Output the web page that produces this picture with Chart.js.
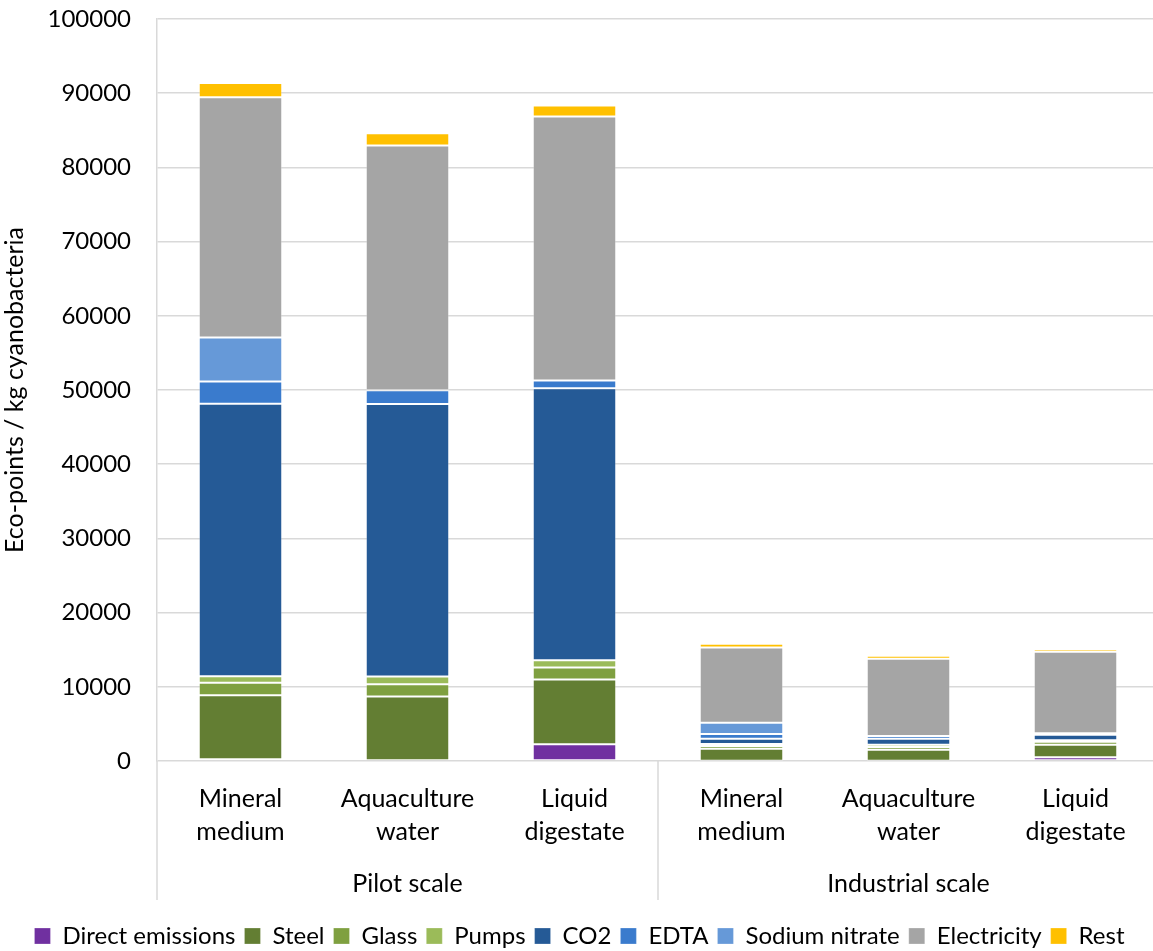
<!DOCTYPE html>
<html>
<head>
<meta charset="utf-8">
<script src="https://cdn.jsdelivr.net/npm/chart.js"></script>
<style>
  html, body { margin: 0; padding: 0; background: #fff; overflow: hidden; }
  #wrap { width: 1159px; height: 951px; }
</style>
</head>
<body>
<div id="wrap"><canvas id="chart"></canvas></div>
<script>
const categories = [
  ['Mineral', 'medium'], ['Aquaculture', 'water'], ['Liquid', 'digestate'],
  ['Mineral', 'medium'], ['Aquaculture', 'water'], ['Liquid', 'digestate']
];
const groups = ['Pilot scale', 'Industrial scale'];

const directEmissions = [250, 100, 2250, 50, 30, 500];
const steel = [8600, 8580, 8720, 1610, 1500, 1700];
const glass = [1700, 1670, 1630, 360, 360, 400];
const pumps = [860, 1030, 990, 270, 310, 190];
const co2 = [36750, 36720, 36650, 720, 810, 760];
const edta = [3000, 1870, 1040, 630, 360, 180];
const sodiumNitrate = [5900, 0, 0, 1530, 0, 0];
const electricity = [32400, 32980, 35590, 10120, 10400, 10980];
const rest = [1900, 1650, 1480, 500, 400, 360];

const yTicks = [0, 10000, 20000, 30000, 40000, 50000, 60000, 70000, 80000, 90000, 100000];

const FONT = 'Lato, "Open Sans", sans-serif';

function ds(label, data, color) {
  return {
    label: label, data: data, backgroundColor: color,
    borderColor: 'rgba(255,255,255,0.25)', borderWidth: 1, borderSkipped: false
  };
}

// group labels under the category labels, with the divider lines
const groupPlugin = {
  id: 'groupPlugin',
  afterDraw(chart) {
    const ctx = chart.ctx;
    const x = chart.scales.x;
    const top = chart.chartArea.bottom;
    const bottom = 900;
    const half = (x.getPixelForValue(1) - x.getPixelForValue(0)) / 2;
    const edges = [x.getPixelForValue(0) - half, x.getPixelForValue(2) + half, x.getPixelForValue(5) + half];
    ctx.save();
    ctx.strokeStyle = '#d9d9d9';
    ctx.lineWidth = 1.5;
    edges.forEach(e => {
      ctx.beginPath();
      ctx.moveTo(e, top);
      ctx.lineTo(e, bottom);
      ctx.stroke();
    });
    ctx.fillStyle = '#000';
    ctx.font = '25px ' + FONT;
    ctx.textAlign = 'center';
    ctx.textBaseline = 'middle';
    ctx.fillText(groups[0], (edges[0] + edges[1]) / 2, 884);
    ctx.fillText(groups[1], (edges[1] + edges[2]) / 2, 884);
    ctx.restore();
  }
};

new Chart(document.getElementById('chart'), {
  type: 'bar',
  data: {
    labels: categories,
    datasets: [
      ds('Direct emissions', directEmissions, '#7030A0'),
      ds('Steel', steel, '#637E33'),
      ds('Glass', glass, '#7FA040'),
      ds('Pumps', pumps, '#9BBB59'),
      ds('CO2', co2, '#255A96'),
      ds('EDTA', edta, '#3A7BCD'),
      ds('Sodium nitrate', sodiumNitrate, '#6699D8'),
      ds('Electricity', electricity, '#A5A5A5'),
      ds('Rest', rest, '#FFC000')
    ]
  },
  options: {
    responsive: true,
    maintainAspectRatio: false,
    animation: false,
    layout: { padding: { left: 0, right: 0, top: 19, bottom: -7 } },
    datasets: { bar: { categoryPercentage: 1.0, barPercentage: 0.5 } },
    plugins: {
      legend: {
        position: 'bottom',
        labels: {
          color: '#000',
          font: { family: FONT, size: 24 },
          boxWidth: 16, boxHeight: 16, padding: 9
        }
      },
      tooltip: { enabled: false }
    },
    scales: {
      x: {
        stacked: true,
        grid: { display: false },
        border: { display: false },
        ticks: {
          color: '#000', font: { family: FONT, size: 25, lineHeight: 1.32 },
          padding: 13, maxRotation: 0, autoSkip: false
        },
        afterFit(scale) { scale.height = 154; }
      },
      y: {
        stacked: true,
        min: 0, max: 100000,
        afterBuildTicks(scale) { scale.ticks = yTicks.map(v => ({ value: v })); },
        grid: { color: '#d9d9d9', lineWidth: 1.5, drawTicks: false },
        border: { display: true, color: '#d9d9d9', width: 1.5 },
        ticks: {
          color: '#000', font: { family: FONT, size: 24 }, padding: 26,
          callback: v => String(v)
        },
        title: {
          display: true, text: 'Eco-points / kg cyanobacteria',
          color: '#000', font: { family: FONT, size: 25 }, padding: { top: 0, bottom: 10 }
        },
        afterFit(scale) {
          scale.width = 157;
          scale.paddingTop = 0;
          scale.paddingBottom = 0;
        }
      }
    }
  },
  plugins: [groupPlugin]
});
</script>
</body>
</html>
